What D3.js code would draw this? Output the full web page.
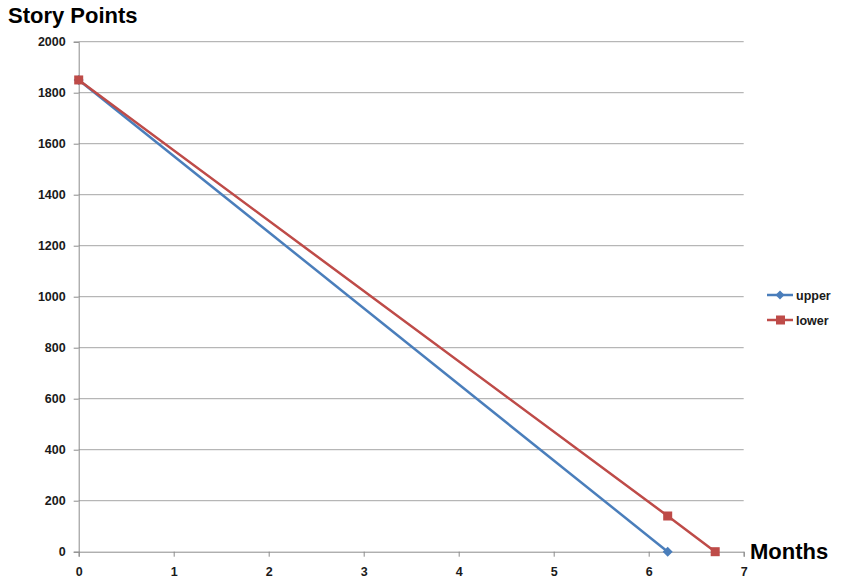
<!DOCTYPE html>
<html>
<head>
<meta charset="utf-8">
<script src="https://cdn.jsdelivr.net/npm/d3@7"></script>
<style>
  body { margin: 0; background: #fff; }
  svg text { font-family: "Liberation Sans", Arial, sans-serif; }
</style>
</head>
<body>
<div id="chart"></div>
<script>
// data
const xTicks = [0, 1, 2, 3, 4, 5, 6, 7];
const yTicks = [0, 200, 400, 600, 800, 1000, 1200, 1400, 1600, 1800, 2000];
const upperMonths = [0, 6.2];
const upperPoints = [1850, 0];
const lowerMonths = [0, 6.2, 6.7];
const lowerPoints = [1850, 140, 0];
const seriesNames = ["upper", "lower"];
const seriesColors = ["#4a7ebb", "#be4b48"];

const W = 844, H = 585;
const margin = {left: 78.7, right: 100.3, top: 41.7, bottom: 33.3};

const svg = d3.select("#chart").append("svg")
    .attr("width", W)
    .attr("height", H);

const x = d3.scaleLinear().domain([0, 7]).range([margin.left, W - margin.right]);
const y = d3.scaleLinear().domain([0, 2000]).range([H - margin.bottom, margin.top]);

// gridlines
svg.append("g")
    .selectAll("line")
    .data(yTicks.filter(d => d > 0))
    .join("line")
    .attr("x1", x(0))
    .attr("x2", x(7))
    .attr("y1", d => y(d))
    .attr("y2", d => y(d))
    .attr("stroke", "#a6a6a6")
    .attr("stroke-width", 1);

// axes
const xAxis = svg.append("g")
    .attr("transform", `translate(0,${y(0)})`)
    .call(d3.axisBottom(x).tickValues(xTicks).tickSize(5).tickPadding(10).tickFormat(d3.format("d")));

const yAxis = svg.append("g")
    .attr("transform", `translate(${x(0)},0)`)
    .call(d3.axisLeft(y).tickValues(yTicks).tickSize(5).tickPadding(6).tickFormat(d3.format("d")));

[xAxis, yAxis].forEach(a => {
    a.attr("font-size", null).attr("font-family", null);
    a.select(".domain").attr("stroke", "#8c8c8c");
    a.selectAll(".tick line").attr("stroke", "#8c8c8c");
    a.selectAll(".tick text")
        .attr("fill", "#1a1a1a")
        .style("font-size", "12.5px")
        .style("font-weight", "bold");
});
yAxis.selectAll(".tick text").attr("x", -13);

// diamond drawn as a rotated square
const diamond = s => `M0,${-s}L${s},0L0,${s}L${-s},0Z`;

// lines
const line = d3.line().x(d => x(d[0])).y(d => y(d[1]));
const upper = upperMonths.map((m, i) => [m, upperPoints[i]]);
const lower = lowerMonths.map((m, i) => [m, lowerPoints[i]]);

svg.append("path")
    .datum(upper)
    .attr("d", line)
    .attr("fill", "none")
    .attr("stroke", seriesColors[0])
    .attr("stroke-width", 2.5);

svg.selectAll(".upper-mark")
    .data(upper)
    .join("path")
    .attr("class", "upper-mark")
    .attr("transform", d => `translate(${x(d[0])},${y(d[1])})`)
    .attr("d", diamond(5))
    .attr("fill", seriesColors[0]);

svg.append("path")
    .datum(lower)
    .attr("d", line)
    .attr("fill", "none")
    .attr("stroke", seriesColors[1])
    .attr("stroke-width", 2.5);

svg.selectAll(".lower-mark")
    .data(lower)
    .join("rect")
    .attr("class", "lower-mark")
    .attr("x", d => x(d[0]) - 4.5)
    .attr("y", d => y(d[1]) - 4.5)
    .attr("width", 9)
    .attr("height", 9)
    .attr("fill", seriesColors[1]);

// axis titles
svg.append("text")
    .attr("x", 8)
    .attr("y", 23)
    .style("font-size", "22px")
    .style("font-weight", "bold")
    .text("Story Points");

svg.append("text")
    .attr("x", 750)
    .attr("y", 559)
    .style("font-size", "22px")
    .style("font-weight", "bold")
    .text("Months");

// legend
const legend = svg.append("g").attr("transform", "translate(767,295)");
seriesNames.forEach((name, i) => {
    const g = legend.append("g").attr("transform", `translate(0,${i * 25})`);
    g.append("line")
        .attr("x1", 0).attr("x2", 26)
        .attr("y1", 0).attr("y2", 0)
        .attr("stroke", seriesColors[i])
        .attr("stroke-width", 2.5);
    if (i === 0) {
        g.append("path")
            .attr("transform", "translate(13,0)")
            .attr("d", diamond(4.5))
            .attr("fill", seriesColors[i]);
    } else {
        g.append("rect")
            .attr("x", 9).attr("y", -4.5)
            .attr("width", 9).attr("height", 9)
            .attr("fill", seriesColors[i]);
    }
    g.append("text")
        .attr("x", 29)
        .attr("y", 4.5)
        .attr("fill", "#1a1a1a")
        .style("font-size", "12.5px")
        .style("font-weight", "bold")
        .text(name);
});
</script>
</body>
</html>
